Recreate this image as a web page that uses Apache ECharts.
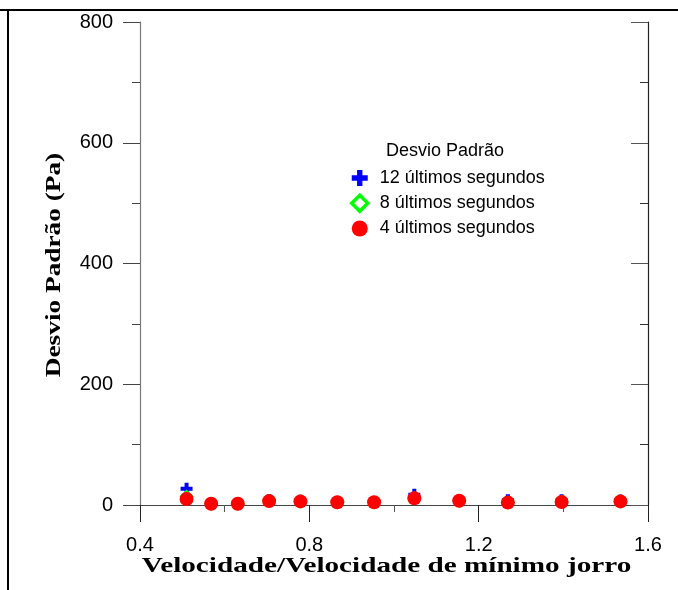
<!DOCTYPE html>
<html>
<head>
<meta charset="utf-8">
<script src="https://cdn.jsdelivr.net/npm/echarts@6/dist/echarts.min.js"></script>
<style>
  html, body { margin: 0; padding: 0; background: #fff; }
  #chart { width: 678px; height: 590px; }
</style>
</head>
<body>
<div id="chart"></div>
<script>
// razao de velocidade (U/Ums)
var velocidade = [0.51, 0.568, 0.631, 0.705, 0.779, 0.866, 0.953, 1.048, 1.154, 1.269, 1.396, 1.535];
// desvio padrao (Pa)
var desvio12 = [27, 3, 3, 8, 7, 5, 5, 17, 8, 8, 8, 7.5];
var desvio8 = [14, 2, 2, 6.5, 6, 4.5, 4.5, 12, 7, 4.5, 5.5, 6];
var desvio4 = [10, 2, 2, 6.5, 6, 4.5, 4.5, 11, 7, 4, 5, 6];
var xTicks = [0.4, 0.8, 1.2, 1.6];
var yTicks = [0, 200, 400, 600, 800];
var nomes = ['12 últimos segundos', '8 últimos segundos', '4 últimos segundos'];
var tituloX = 'Velocidade/Velocidade de mínimo jorro';
var tituloY = 'Desvio Padrão (Pa)';

function pares(ys) {
	var out = [];
	for (var i = 0; i < velocidade.length; i++) out.push([velocidade[i], ys[i]]);
	return out;
}

var cruz = 'path://M4,0H8V4H12V8H8V12H4V8H0V4H4Z';
var sans = 'Liberation Sans, Arial, sans-serif';
var serif = '"Liberation Serif", "Times New Roman", serif';

var chart = echarts.init(document.getElementById('chart'));
var option = {
	animation: false,
	title: {
		text: 'Desvio Padrão',
		left: 386,
		top: 142,
		padding: 0,
		textStyle: { fontFamily: sans, fontSize: 18, fontWeight: 'normal', color: '#000' }
	},
	legend: {
		orient: 'vertical',
		left: 345,
		top: 164,
		itemWidth: 16,
		itemHeight: 16,
		itemGap: 6.5,
		data: [
			{ name: nomes[0] },
			{ name: nomes[1], itemStyle: { color: '#fff', borderColor: '#00ff00', borderWidth: 3.5 } },
			{ name: nomes[2] }
		],
		textStyle: { fontFamily: sans, fontSize: 18, color: '#000', padding: [0, 0, 0, 7] }
	},
	grid: { left: 140, right: 30, top: 22, bottom: 85 },
	xAxis: [
		{
			type: 'value',
			min: xTicks[0], max: xTicks[xTicks.length - 1], interval: 0.4,
			axisLine: { lineStyle: { color: '#000', width: 1.2 } },
			axisTick: { length: 15, lineStyle: { color: '#111' } },
			minorTick: { show: true, splitNumber: 2, length: 7, lineStyle: { color: '#333' } },
			splitLine: { show: false },
			axisLabel: {
				margin: 30, fontFamily: sans, fontSize: 20, color: '#000',
				formatter: function (v) { return v.toFixed(1); }
			}
		},
		{
			type: 'value', position: 'top',
			min: xTicks[0], max: xTicks[xTicks.length - 1], interval: 0.4,
			axisLine: { lineStyle: { color: '#444', width: 1 } },
			axisTick: { inside: true, length: 17, lineStyle: { color: '#222' } },
			minorTick: { show: true, splitNumber: 2, length: 7, lineStyle: { color: '#555' } },
			splitLine: { show: false },
			axisLabel: { show: false }
		}
	],
	yAxis: [
		{
			type: 'value',
			min: yTicks[0], max: yTicks[yTicks.length - 1], interval: 200,
			axisLine: { lineStyle: { color: '#777', width: 1.2 } },
			axisTick: { length: 17, lineStyle: { color: '#444' } },
			minorTick: { show: true, splitNumber: 2, length: 8, lineStyle: { color: '#444' } },
			splitLine: { show: false },
			axisLabel: { margin: 27, fontFamily: sans, fontSize: 20, color: '#000' }
		},
		{
			type: 'value', position: 'right',
			min: yTicks[0], max: yTicks[yTicks.length - 1], interval: 200,
			axisLine: { lineStyle: { color: '#222', width: 1.2 } },
			axisTick: { inside: true, length: 17, lineStyle: { color: '#555' } },
			minorTick: { show: true, splitNumber: 2, length: 8, lineStyle: { color: '#333' } },
			splitLine: { show: false },
			axisLabel: { show: false }
		}
	],
	series: [
		{
			name: nomes[0], type: 'scatter',
			symbol: cruz, symbolSize: 12,
			itemStyle: { color: '#0000ff', opacity: 1 },
			data: pares(desvio12)
		},
		{
			name: nomes[1], type: 'scatter',
			symbol: 'diamond', symbolSize: 10,
			itemStyle: { color: '#fff', borderColor: '#00ff00', borderWidth: 3, opacity: 1 },
			data: pares(desvio8)
		},
		{
			name: nomes[2], type: 'scatter',
			symbol: 'circle', symbolSize: 14,
			itemStyle: { color: '#ff0000', opacity: 1 },
			data: pares(desvio4)
		}
	],
	graphic: [
		{ type: 'line', shape: { x1: 0, y1: 10, x2: 678, y2: 10 }, style: { stroke: '#000', lineWidth: 2 } },
		{ type: 'line', shape: { x1: 8, y1: 10, x2: 8, y2: 590 }, style: { stroke: '#000', lineWidth: 2 } },
		// titulos dos eixos (fonte esticada como no original)
		{
			type: 'text', x: 386.5, y: 567, scaleX: 1.39,
			style: { text: tituloX, font: 'bold 21px ' + serif, fill: '#000', align: 'center', verticalAlign: 'middle' }
		},
		{
			type: 'text', x: 55, y: 265, rotation: Math.PI / 2, scaleX: 1.3,
			style: { text: tituloY, font: 'bold 21px ' + serif, fill: '#000', align: 'center', verticalAlign: 'middle' }
		}
	]
};
chart.setOption(option);

window.addEventListener('resize', function () { chart.resize(); });
</script>
</body>
</html>
